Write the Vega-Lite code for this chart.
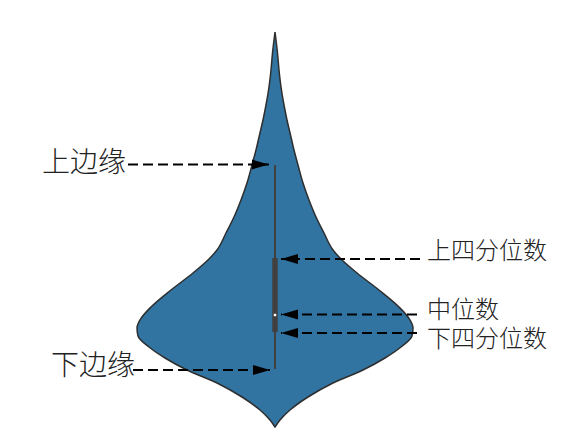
{
  "$schema": "https://vega.github.io/schema/vega-lite/v6.json",
  "width": 588,
  "height": 437,
  "autosize": {"type": "fit", "contains": "padding"},
  "padding": 0,
  "background": "white",
  "config": {"view": {"stroke": null}},
  "datasets": {
    "violin": [
      {"v": 1.0, "lo": 0, "hi": 0},
      {"v": 1.7, "lo": -0.5, "hi": 0.5},
      {"v": 2.7, "lo": -1.5, "hi": 1.5},
      {"v": 4.0, "lo": -3.3, "hi": 3.3},
      {"v": 5.4, "lo": -5.8, "hi": 5.8},
      {"v": 6.7, "lo": -8.8, "hi": 8.8},
      {"v": 7.9, "lo": -11.0, "hi": 11.0},
      {"v": 9.0, "lo": -12.6, "hi": 12.6},
      {"v": 10.1, "lo": -13.7, "hi": 13.7},
      {"v": 10.9, "lo": -13.8, "hi": 13.8},
      {"v": 11.7, "lo": -13.5, "hi": 13.5},
      {"v": 13.0, "lo": -12.4, "hi": 12.4},
      {"v": 14.7, "lo": -10.4, "hi": 10.4},
      {"v": 16.4, "lo": -8.2, "hi": 8.2},
      {"v": 17.8, "lo": -6.6, "hi": 6.6},
      {"v": 18.7, "lo": -5.8, "hi": 5.8},
      {"v": 20.4, "lo": -4.9, "hi": 4.9},
      {"v": 22.0, "lo": -4.1, "hi": 4.1},
      {"v": 23.7, "lo": -3.4, "hi": 3.4},
      {"v": 25.4, "lo": -2.8, "hi": 2.8},
      {"v": 27.2, "lo": -2.3, "hi": 2.3},
      {"v": 28.7, "lo": -1.9, "hi": 1.9},
      {"v": 30.2, "lo": -1.55, "hi": 1.55},
      {"v": 31.7, "lo": -1.2, "hi": 1.2},
      {"v": 33.2, "lo": -0.9, "hi": 0.9},
      {"v": 35.0, "lo": -0.6, "hi": 0.6},
      {"v": 36.7, "lo": -0.4, "hi": 0.4},
      {"v": 38.4, "lo": -0.25, "hi": 0.25},
      {"v": 39.7, "lo": -0.1, "hi": 0.1},
      {"v": 40.5, "lo": 0, "hi": 0}
    ],
    "box": [
      {"lower_whisker": 6.8, "q1": 10.5, "median": 12.2, "q3": 17.9, "upper_whisker": 27.2, "center": 0}
    ],
    "arrows": [
      {"label": "上边缘", "y": 27.25, "start": -14.7, "tip": -0.6, "dir": "right"},
      {"label": "下边缘", "y": 6.7, "start": -14.2, "tip": -0.5, "dir": "right"},
      {"label": "上四分位数", "y": 17.8, "start": 14.5, "tip": 0.6, "dir": "left"},
      {"label": "中位数", "y": 12.25, "start": 14.2, "tip": 0.6, "dir": "left"},
      {"label": "下四分位数", "y": 10.4, "start": 14.2, "tip": 0.6, "dir": "left"}
    ],
    "leftLabels": [
      {"label": "上边缘", "x": -14.9, "y": 27.3},
      {"label": "下边缘", "x": -14.0, "y": 7.0}
    ],
    "rightLabels": [
      {"label": "上四分位数", "x": 15.2, "y": 18.5},
      {"label": "中位数", "x": 15.2, "y": 12.6},
      {"label": "下四分位数", "x": 15.2, "y": 9.7}
    ]
  },
  "layer": [
    {
      "data": {"name": "violin"},
      "mark": {"type": "area", "orient": "horizontal", "interpolate": "monotone", "fill": "#3274a1", "stroke": "#2e2e2e", "strokeWidth": 1.5},
      "encoding": {
        "y": {"field": "v", "type": "quantitative", "scale": {"domain": [0, 43.7], "nice": false, "zero": false}, "axis": null},
        "x": {"field": "lo", "type": "quantitative", "scale": {"domain": [-27.5, 31.3], "nice": false, "zero": false}, "axis": null},
        "x2": {"field": "hi"}
      }
    },
    {
      "data": {"name": "box"},
      "mark": {"type": "rule", "color": "#404040", "strokeWidth": 2},
      "encoding": {
        "x": {"field": "center", "type": "quantitative"},
        "y": {"field": "lower_whisker", "type": "quantitative"},
        "y2": {"field": "upper_whisker"}
      }
    },
    {
      "data": {"name": "box"},
      "mark": {"type": "rule", "color": "#404040", "strokeWidth": 5.5, "strokeCap": "butt"},
      "encoding": {
        "x": {"field": "center", "type": "quantitative"},
        "y": {"field": "q1", "type": "quantitative"},
        "y2": {"field": "q3"}
      }
    },
    {
      "data": {"name": "box"},
      "mark": {"type": "point", "shape": "square", "filled": true, "color": "white", "size": 6, "opacity": 1},
      "encoding": {
        "x": {"field": "center", "type": "quantitative"},
        "y": {"field": "median", "type": "quantitative"}
      }
    },
    {
      "data": {"name": "arrows"},
      "mark": {"type": "rule", "color": "black", "strokeWidth": 2, "strokeDash": [10, 5]},
      "encoding": {
        "x": {"field": "start", "type": "quantitative"},
        "x2": {"field": "tip"},
        "y": {"field": "y", "type": "quantitative"}
      }
    },
    {
      "data": {"name": "arrows"},
      "mark": {"type": "point", "filled": true, "color": "black", "size": 289, "opacity": 1},
      "encoding": {
        "x": {"field": "tip", "type": "quantitative"},
        "y": {"field": "y", "type": "quantitative"},
        "shape": {"field": "dir", "type": "nominal", "scale": {"domain": ["right", "left"], "range": ["M0,0L-2,-0.58L-2,0.58Z", "M0,0L2,-0.58L2,0.58Z"]}, "legend": null}
      }
    },
    {
      "data": {"name": "leftLabels"},
      "mark": {"type": "text", "align": "right", "baseline": "middle", "font": "Noto Sans CJK SC", "fontSize": 28, "fontWeight": 300, "color": "#222222"},
      "encoding": {
        "x": {"field": "x", "type": "quantitative"},
        "y": {"field": "y", "type": "quantitative"},
        "text": {"field": "label"}
      }
    },
    {
      "data": {"name": "rightLabels"},
      "mark": {"type": "text", "align": "left", "baseline": "middle", "font": "Noto Sans CJK SC", "fontSize": 24, "fontWeight": 300, "color": "#222222"},
      "encoding": {
        "x": {"field": "x", "type": "quantitative"},
        "y": {"field": "y", "type": "quantitative"},
        "text": {"field": "label"}
      }
    }
  ]
}
